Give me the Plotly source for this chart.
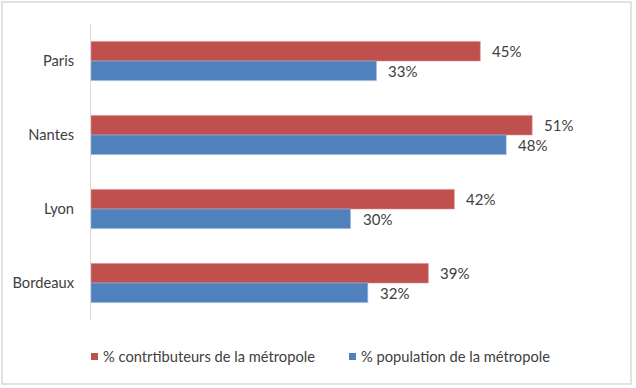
import plotly.graph_objects as go

categories = ["Paris", "Nantes", "Lyon", "Bordeaux"]
contributeurs = [0.45, 0.51, 0.42, 0.39]
population = [0.33, 0.48, 0.30, 0.32]
series_names = ["% contrtibuteurs de la métropole", "% population de la métropole"]

RED = "#C0504D"
BLUE = "#4F81BD"
TXT = "#404040"
FONT = "Lato, 'Open Sans', sans-serif"

W, H = 636, 388
L, R, T, B = 91, 26, 24, 68
pw = W - L - R
ph = H - T - B


def px_x(x):
    return (x - L) / pw


def px_y(y):
    return (H - B - y) / ph


fig = go.Figure()
colors = [RED, BLUE]
edges = ["#D9918F", "#9DB9DD"]
for name, vals, col, edge in zip(series_names, [contributeurs, population], colors, edges):
    fig.add_trace(go.Bar(y=categories, x=vals, orientation="h", name=name,
                         marker=dict(color=col, line=dict(color=edge, width=0.6)),
                         hoverinfo="skip", showlegend=False))

annotations = []
for vals, off in ((contributeurs, -0.13), (population, 0.13)):
    for c_i, v in enumerate(vals):
        annotations.append(dict(x=v, y=c_i + off, xref="x", yref="y",
                                text=f"{round(v*100)}%", showarrow=False,
                                xanchor="left", yanchor="middle", xshift=10,
                                font=dict(family=FONT, size=15, color=TXT)))

shapes = [dict(type="rect", xref="paper", yref="paper",
               x0=px_x(2), x1=px_x(631), y0=px_y(384), y1=px_y(2),
               line=dict(color="#D9D9D9", width=1.5), fillcolor="rgba(0,0,0,0)", layer="above")]

# manual legend
leg_sq_x = [91, 349]
leg_txt_x = [101, 359]
for name, col, sx, tx in zip(series_names, colors, leg_sq_x, leg_txt_x):
    shapes.append(dict(type="rect", xref="paper", yref="paper",
                       x0=px_x(sx), x1=px_x(sx + 7), y0=px_y(360), y1=px_y(353),
                       line=dict(width=0), fillcolor=col, layer="above"))
    annotations.append(dict(x=px_x(tx), y=px_y(356), xref="paper", yref="paper",
                            text=name, showarrow=False, xanchor="left", yanchor="middle",
                            font=dict(family=FONT, size=14.7, color=TXT)))

fig.update_layout(
    width=W, height=H,
    margin=dict(l=L, r=R, t=T, b=B, autoexpand=False),
    paper_bgcolor="white", plot_bgcolor="white",
    barmode="group", bargap=0.47, bargroupgap=0,
    font=dict(family=FONT, size=15, color=TXT),
    annotations=annotations,
    shapes=shapes,
    xaxis=dict(range=[0, 0.6], showgrid=False, showticklabels=False, zeroline=False,
               showline=False, fixedrange=True),
    yaxis=dict(type="category", categoryorder="array", categoryarray=categories,
               autorange="reversed", showgrid=False, showline=True, linecolor="#D9D9D9",
               linewidth=1, ticks="", ticklabelstandoff=13, fixedrange=True,
               tickfont=dict(family=FONT, size=14.7, color=TXT)),
    showlegend=False,
)

fig.write_html("out.html", config={"displayModeBar": False, "staticPlot": True},
               post_script="document.body.style.margin='0';document.body.style.overflow='hidden';")
